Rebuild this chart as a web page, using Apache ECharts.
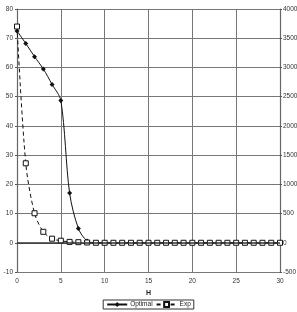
<!DOCTYPE html>
<html>
<head>
<meta charset="utf-8">
<script src="https://cdn.jsdelivr.net/npm/echarts@6/dist/echarts.min.js"></script>
<style>
  html, body { margin: 0; padding: 0; background: #fff; }
  #chart { width: 297px; height: 312px; }
</style>
</head>
<body>
<div id="chart"></div>
<script>
// H values 0..30
const hValues = [0,1,2,3,4,5,6,7,8,9,10,11,12,13,14,15,16,17,18,19,20,21,22,23,24,25,26,27,28,29,30];
// left axis
const optimal = [72.5,68.2,63.7,59.5,54.2,48.7,17,4.9,0.6,0,0,0,0,0,0,0,0,0,0,0,0,0,0,0,0,0,0,0,0,0,0];
// right axis
const expVals = [3700,1360,505,188,70,35,15,10,5,0,0,0,0,0,0,0,0,0,0,0,0,0,0,0,0,0,0,0,0,0,0];

const chart = echarts.init(document.getElementById('chart'));

const tickFont = { fontFamily: 'Liberation Sans', fontSize: 6.5, color: '#333' };
const plain = v => String(v);

const option = {
  animation: false,
  grid: { left: 17, right: 17, top: 9, bottom: 40, outerBoundsMode: 'none', containLabel: false },
  xAxis: {
    type: 'value',
    min: 0, max: 30, interval: 5,
    name: 'H',
    nameLocation: 'middle',
    nameGap: 15,
    nameTextStyle: { fontFamily: 'Liberation Sans', fontSize: 7, fontWeight: 'bold', color: '#222' },
    axisLine: { onZero: false, lineStyle: { color: '#777', width: 1 } },
    axisTick: { show: false },
    axisLabel: Object.assign({ margin: 6, formatter: plain }, tickFont),
    splitLine: { lineStyle: { color: '#777', width: 1 } }
  },
  yAxis: [
    {
      type: 'value',
      min: -10, max: 80, interval: 10,
      axisLine: { show: true, lineStyle: { color: '#666', width: 1.2 } },
      axisTick: { show: true, length: 2, lineStyle: { color: '#555' } },
      axisLabel: Object.assign({ margin: 4, formatter: plain }, tickFont),
      splitLine: { lineStyle: { color: '#777', width: 1 } }
    },
    {
      type: 'value',
      min: -500, max: 4000, interval: 500,
      position: 'right',
      axisLine: { show: true, lineStyle: { color: '#666', width: 1.2 } },
      axisTick: { show: true, length: 2, lineStyle: { color: '#555' } },
      axisLabel: Object.assign({ margin: 3, formatter: plain }, tickFont),
      splitLine: { show: false }
    }
  ],
  legend: {
    bottom: 3,
    left: 'center',
    itemWidth: 20,
    itemHeight: 6,
    itemGap: 3,
    padding: [1, 3],
    borderColor: '#333',
    borderWidth: 1,
    borderRadius: 0,
    textStyle: { fontFamily: 'Liberation Sans', fontSize: 6.5, color: '#222', padding: [0, 0, 0, -2] },
    data: ['Optimal', 'Exp']
  },
  series: [
    {
      name: 'Optimal',
      type: 'line',
      yAxisIndex: 0,
      smooth: 0.3,
      data: hValues.map((h, i) => [h, optimal[i]]),
      lineStyle: { color: '#111', width: 1 },
      itemStyle: { color: '#111' },
      symbol: 'diamond',
      symbolSize: 5,
      markLine: {
        silent: true,
        symbol: 'none',
        label: { show: false },
        lineStyle: { color: '#333', width: 1.5, type: 'solid' },
        data: [{ yAxis: 0 }]
      }
    },
    {
      name: 'Exp',
      type: 'line',
      yAxisIndex: 1,
      smooth: 0.3,
      data: hValues.map((h, i) => [h, expVals[i]]),
      lineStyle: { color: '#111', width: 1, type: [4, 3] },
      itemStyle: { color: '#fff', borderColor: '#111', borderWidth: 1 },
      symbol: 'rect',
      symbolSize: 5
    }
  ]
};

chart.setOption(option);
</script>
</body>
</html>
